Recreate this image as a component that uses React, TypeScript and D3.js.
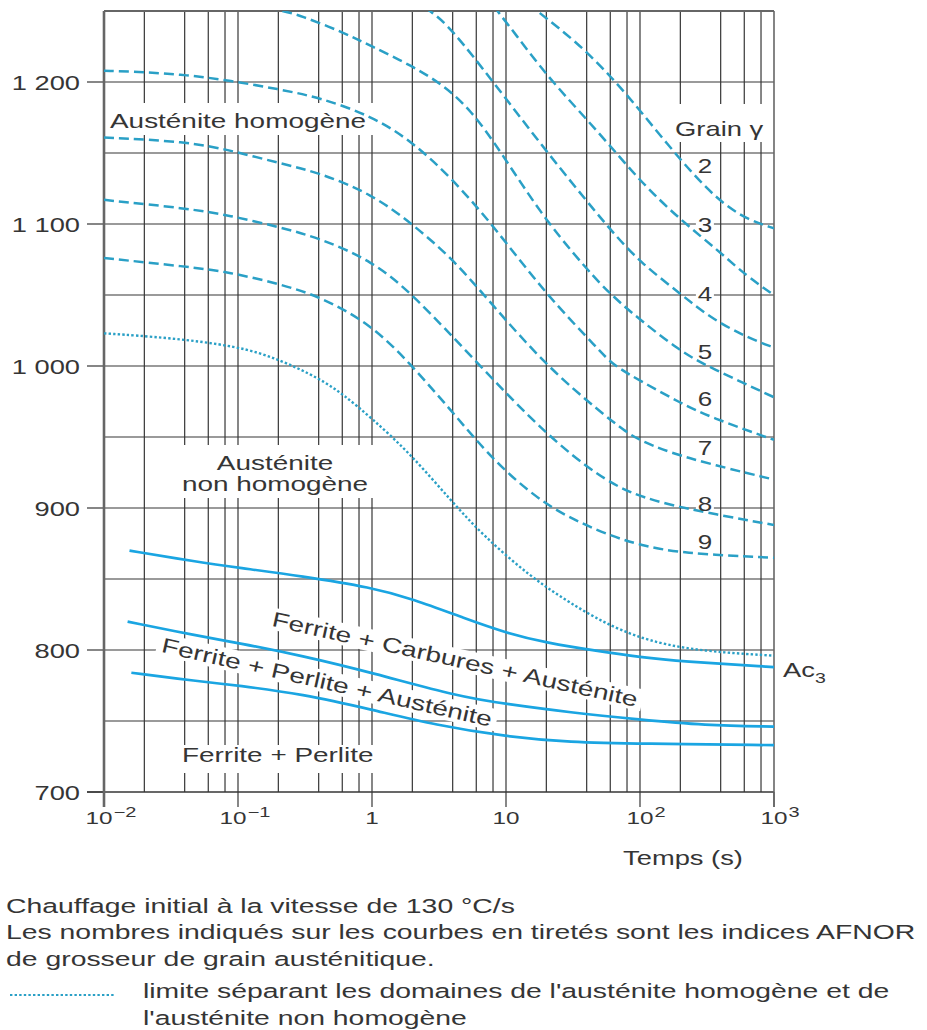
import React from "react";
import * as d3 from "d3";

// plot frame in page pixels
const W = 927;
const H = 1030;
const LEFT = 104;
const RIGHT = 774;
const TOP = 11;
const BOTTOM = 792;

const FONT = "'Liberation Sans', Arial, Helvetica, sans-serif";
const TXT = "#353535";
const GRID = "#363636";
const DASH_BLUE = "#2aa0c6";
const SOLID_BLUE = "#1aa5e2";

// axes
const yTicks = [700, 800, 900, 1000, 1100, 1200];
const yTickLabels = ["700", "800", "900", "1 000", "1 100", "1 200"];
const xTicks = [0.01, 0.1, 1, 10, 100, 1000];
const xTickBase = ["10", "10", "1", "10", "10", "10"];
const xTickExp = ["\u22122", "\u22121", "", "", "2", "3"];
const gridMult = [2, 4, 6, 8];

// dashed curves, AFNOR grain index 2 .. 9  [time s, temperature °C]
const grain2 = [[12, 1262], [17, 1250], [34, 1228], [62, 1203], [100, 1180], [200, 1145], [376, 1117], [630, 1103], [1000, 1097]];
const grain3 = [[7, 1262], [8.6, 1250], [11.3, 1236], [20.6, 1203], [50, 1164], [100, 1130], [200, 1103], [376, 1082], [630, 1063], [1000, 1050]];
const grain4 = [[2, 1258], [2.85, 1249], [3.95, 1237], [7.9, 1201], [20, 1151], [50, 1105], [63, 1094], [100, 1073], [200, 1051], [333, 1034], [630, 1020], [1000, 1013]];
const grain5 = [[0.1, 1256], [0.217, 1250], [0.29, 1247], [0.61, 1235], [1, 1225], [1.93, 1212], [3.4, 1198], [5.5, 1180], [9, 1152], [20, 1101], [50, 1058], [62, 1050], [80, 1040], [200, 1010], [333, 999], [1000, 978]];
const grain6 = [[0.01, 1208], [0.0195, 1207], [0.0416, 1205], [0.087, 1201], [0.2, 1195], [0.41, 1189], [1, 1176], [2, 1158], [3.95, 1132], [7.87, 1100], [20, 1050], [50, 1011], [62, 1001], [103, 989], [200, 974], [333, 964], [1000, 948]];
const grain7 = [[0.01, 1161], [0.0416, 1158], [0.087, 1152], [0.2, 1143], [0.41, 1136], [1, 1121], [2, 1100], [3.95, 1076], [7.6, 1045], [20, 1000], [50, 968], [80, 953], [103, 947], [200, 936], [1000, 920]];
const grain8 = [[0.01, 1117], [0.0416, 1111], [0.087, 1106], [0.2, 1098], [0.41, 1090], [1, 1074], [2, 1051], [6.4, 1000], [20.2, 951], [50, 922], [80, 912], [103, 908], [200, 900], [1000, 888]];
const grain9 = [[0.01, 1076], [0.0416, 1070], [0.087, 1066], [0.2, 1058], [0.41, 1049], [1, 1029], [2, 1000], [3.95, 968], [5.7, 950], [10, 925], [20, 902], [35, 890], [62, 880], [100, 874], [200, 868], [1000, 865]];
const grainCurves = [grain2, grain3, grain4, grain5, grain6, grain7, grain8, grain9];
const grainNames = ["2", "3", "4", "5", "6", "7", "8", "9"];
const grainLabelT = [1141, 1099, 1051, 1010, 977, 942, 903, 876];
const grainLabelTime = 305;

// dotted limit homogeneous / non homogeneous austenite
const limitCurve = [[0.01, 1023], [0.03, 1020], [0.1, 1014], [0.2, 1005], [0.41, 991], [0.61, 980], [1, 963], [1.9, 939], [3.9, 905], [6.7, 881], [15, 852], [30, 833], [70, 813], [200, 800], [1000, 796]];

// solid transformation lines
const ac3Curve = [[0.0155, 870], [0.05, 862], [0.1, 858], [0.3, 852], [1, 844], [2, 836], [5, 822], [10, 812], [20, 805], [50, 799], [100, 795], [200, 792], [1000, 788]];
const midCurve = [[0.015, 820], [0.05, 810], [0.1, 805], [0.3, 796], [1, 784], [4.5, 767], [10, 762], [30, 756], [100, 751], [300, 747], [1000, 746]];
const lowCurve = [[0.016, 784], [0.05, 778], [0.1, 775], [0.3, 769], [1, 758], [3, 747], [10, 739], [30, 735], [100, 734], [1000, 733]];

const notes = [
	"Chauffage initial à la vitesse de 130 °C/s",
	"Les nombres indiqués sur les courbes en tiretés sont les indices AFNOR",
	"de grosseur de grain austénitique."
];
const limitNote = ["limite séparant les domaines de l'austénite homogène et de", "l'austénite non homogène"];

const Txt = ({ x, y, s = 21, sx = 1.33, anchor = "start", rot = 0, children }: any) => (
	<text
		transform={`translate(${x},${y}) rotate(${rot}) scale(${sx},1)`}
		fontSize={s}
		textAnchor={anchor}
		fill={TXT}
		fontFamily={FONT}>
		{children}
	</text>
);

export default function App() {
	const x = d3.scaleLog().domain([0.01, 1000]).range([LEFT, RIGHT]);
	const y = d3.scaleLinear().domain([700, 1250]).range([BOTTOM, TOP]);
	const line = d3
		.line<number[]>()
		.x((d) => x(d[0]))
		.y((d) => y(d[1]))
		.curve(d3.curveBasis);

	const decades = [0.01, 0.1, 1, 10, 100];
	const gridX = decades.flatMap((d) => gridMult.map((k) => k * d)).concat([0.1, 1, 10, 100]);
	const gridY = d3.range(750, 1250, 50);

	const rot1 = 12.5;
	const rot2 = 12.8;

	return (
		<svg
			width={W}
			height={H}
			style={{ position: "absolute", left: 0, top: 0, background: "#fff" }}
			fontFamily={FONT}>
			<defs>
				<clipPath id="plot-clip">
					<rect x={LEFT} y={TOP} width={RIGHT - LEFT} height={BOTTOM - TOP} />
				</clipPath>
			</defs>

			{/* grid */}
			<g stroke={GRID} strokeWidth={1.2}>
				{gridX.map((v, i) => (
					<line key={"gx" + i} x1={x(v)} x2={x(v)} y1={TOP} y2={BOTTOM} />
				))}
				{gridY.map((v, i) => (
					<line key={"gy" + i} x1={LEFT} x2={RIGHT} y1={y(v)} y2={y(v)} />
				))}
				{yTicks.map((v, i) => (
					<line key={"yt" + i} x1={LEFT - 17} x2={LEFT} y1={y(v)} y2={y(v)} />
				))}
				{xTicks.map((v, i) => (
					<line key={"xt" + i} x1={x(v)} x2={x(v)} y1={BOTTOM} y2={BOTTOM + 15} />
				))}
				<line x1={LEFT - 17} x2={RIGHT} y1={BOTTOM} y2={BOTTOM} strokeWidth={1.5} />
			</g>
			{/* frame */}
			<g stroke="#666" fill="none">
				<line x1={LEFT} x2={RIGHT} y1={TOP} y2={TOP} strokeWidth={2} />
				<line x1={LEFT} x2={LEFT} y1={TOP} y2={BOTTOM + 15} strokeWidth={2.6} />
				<line x1={RIGHT} x2={RIGHT} y1={TOP} y2={BOTTOM + 15} strokeWidth={1.6} />
			</g>

			{/* white label backgrounds */}
			<g fill="#fff">
				<rect x={106} y={103} width={268} height={32} />
				<rect x={176} y={445} width={198} height={53} />
				<rect x={178} y={745} width={200} height={28} />
				<rect x={670} y={104} width={98} height={38} />
				{grainNames.map((n, i) => (
					<rect key={"gb" + i} x={x(grainLabelTime) - 9} y={y(grainLabelT[i]) - 10} width={18} height={20} />
				))}
				<g transform={`translate(455,659) rotate(${rot1})`}>
					<rect x={-192} y={-11} width={384} height={22} />
				</g>
				<g transform={`translate(327,682) rotate(${rot2})`}>
					<rect x={-174} y={-11} width={348} height={22} />
				</g>
			</g>

			{/* curves */}
			<g clipPath="url(#plot-clip)" fill="none">
				{grainCurves.map((c, i) => (
					<path key={"g" + i} d={line(c) || ""} stroke={DASH_BLUE} strokeWidth={2.5} strokeDasharray="10 5" />
				))}
				<path d={line(limitCurve) || ""} stroke={DASH_BLUE} strokeWidth={2.4} strokeDasharray="2.4 2.2" />
				{[ac3Curve, midCurve, lowCurve].map((c, i) => (
					<path key={"s" + i} d={line(c) || ""} stroke={SOLID_BLUE} strokeWidth={2.7} />
				))}
			</g>

			{/* y tick labels */}
			{yTicks.map((v, i) => (
				<Txt key={"yl" + i} x={80} y={y(v) + 7.5} anchor="end" sx={1.3}>
					{yTickLabels[i]}
				</Txt>
			))}
			{/* x tick labels */}
			{xTicks.map((v, i) => {
				const shift = xTickExp[i].length > 1 ? 5 : 0;
				const half = (xTickBase[i].length * 0.556 * 17 * 1.43) / 2;
				return (
					<g key={"xl" + i}>
						<Txt x={x(v) - shift} y={824} s={17} sx={1.43} anchor="middle">
							{xTickBase[i]}
						</Txt>
						{xTickExp[i] && (
							<Txt x={x(v) - shift + half + 1} y={817} s={14} sx={1.43}>
								{xTickExp[i]}
							</Txt>
						)}
					</g>
				);
			})}
			<Txt x={683} y={865} anchor="middle" sx={1.3}>
				Temps (s)
			</Txt>

			{/* domain labels */}
			<Txt x={110} y={128}>Austénite homogène</Txt>
			<Txt x={275} y={470} anchor="middle">Austénite</Txt>
			<Txt x={275} y={491} anchor="middle">non homogène</Txt>
			<Txt x={182} y={762}>Ferrite + Perlite</Txt>
			<Txt x={455} y={659} rot={rot1} anchor="middle">
				<tspan dy={7.5}>Ferrite + Carbures + Austénite</tspan>
			</Txt>
			<Txt x={327} y={682} rot={rot2} anchor="middle">
				<tspan dy={7.5}>Ferrite + Perlite + Austénite</tspan>
			</Txt>
			<Txt x={675} y={136} s={20} sx={1.37}>
				Grain γ
			</Txt>
			{grainNames.map((n, i) => (
				<Txt key={"gn" + i} x={x(grainLabelTime)} y={y(grainLabelT[i]) + 7} s={20} sx={1.3} anchor="middle">
					{n}
				</Txt>
			))}
			<Txt x={783} y={677} sx={1.3}>
				Ac
			</Txt>
			<Txt x={815} y={683} s={15} sx={1.3}>
				3
			</Txt>

			{/* notes */}
			{notes.map((t, i) => (
				<Txt key={"n" + i} x={6} y={[913, 939, 966][i]} s={19.5} sx={1.455}>
					{t}
				</Txt>
			))}
			<line x1={10} x2={115} y1={995} y2={995} stroke={DASH_BLUE} strokeWidth={2.2} strokeDasharray="2.4 2.2" />
			{limitNote.map((t, i) => (
				<Txt key={"l" + i} x={143} y={998 + i * 27} s={19.5} sx={1.455}>
					{t}
				</Txt>
			))}
		</svg>
	);
}
